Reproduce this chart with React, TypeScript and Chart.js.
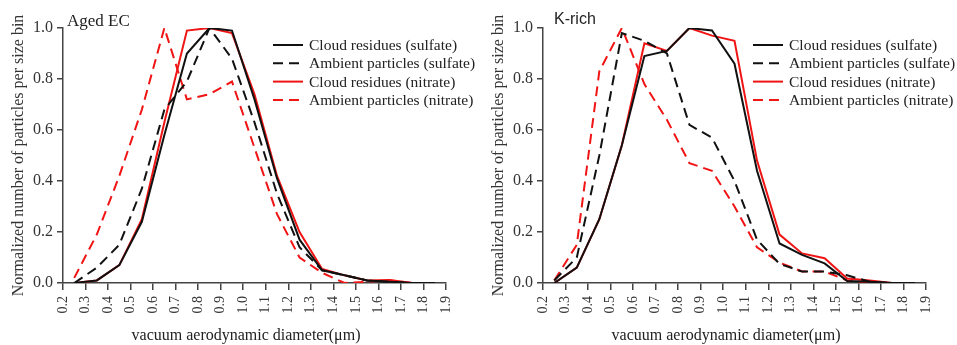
import React, { useEffect, useRef } from "react";
import { Chart, registerables } from "chart.js";

Chart.register(...registerables);

// ---- data ----
const binCenters = [0.25, 0.35, 0.45, 0.55, 0.65, 0.75, 0.85, 0.95, 1.05, 1.15, 1.25, 1.35, 1.45, 1.55, 1.65, 1.75, 1.85];
const xTicks = [0.2, 0.3, 0.4, 0.5, 0.6, 0.7, 0.8, 0.9, 1.0, 1.1, 1.2, 1.3, 1.4, 1.5, 1.6, 1.7, 1.8, 1.9];
const yTicks = [0, 0.2, 0.4, 0.6, 0.8, 1.0];
const seriesLabels = [
  "Cloud residues (sulfate)",
  "Ambient particles (sulfate)",
  "Cloud residues (nitrate)",
  "Ambient particles (nitrate)",
];
const panelTitles = ["Aged EC", "K-rich"];
const yAxisTitle = "Normalized number of particles per size bin";
const xAxisTitle = "vacuum aerodynamic diameter(\u03bcm)";

// Aged EC
const agedCloudSulfate = [0, 0.01, 0.07, 0.24, 0.58, 0.9, 1.0, 0.99, 0.72, 0.41, 0.17, 0.05, 0.03, 0.01, 0.005, 0, 0];
const agedAmbientSulfate = [0.0, 0.06, 0.15, 0.37, 0.68, 0.79, 1.0, 0.88, 0.63, 0.35, 0.14, 0.05, 0.03, 0.01, 0.005, 0, 0];
const agedCloudNitrate = [0, 0.01, 0.07, 0.25, 0.63, 0.99, 1.0, 0.98, 0.74, 0.42, 0.2, 0.055, 0.03, 0.01, 0.012, 0, 0];
const agedAmbientNitrate = [0.02, 0.19, 0.42, 0.68, 1.0, 0.72, 0.74, 0.79, 0.53, 0.27, 0.1, 0.04, 0.0, 0.005, 0.01, 0, 0];

// K-rich
const krCloudSulfate = [0, 0.06, 0.25, 0.54, 0.89, 0.91, 1.0, 0.99, 0.86, 0.44, 0.155, 0.11, 0.077, 0.008, 0.005, 0, 0];
const krAmbientSulfate = [0.01, 0.1, 0.5, 0.98, 0.95, 0.9, 0.62, 0.57, 0.4, 0.17, 0.075, 0.045, 0.045, 0.03, 0.005, 0, 0];
const krCloudNitrate = [0, 0.06, 0.25, 0.54, 0.94, 0.91, 1.0, 0.97, 0.95, 0.48, 0.19, 0.116, 0.097, 0.018, 0.01, 0, 0];
const krAmbientNitrate = [0.01, 0.15, 0.83, 1.0, 0.78, 0.64, 0.47, 0.44, 0.3, 0.14, 0.08, 0.045, 0.045, 0.01, 0, 0, 0];

const BLACK = "#111111";
const RED = "#f01414";
const SERIF = "'Liberation Serif', 'Times New Roman', serif";
const SANS = "'Liberation Sans', Arial, sans-serif";

const decorPlugin = {
  id: "panelDecor",
  afterDraw(chart: any, _args: any, opts: any) {
    const ctx = chart.ctx;
    ctx.save();
    // panel title
    ctx.fillStyle = "#222";
    ctx.font = opts.titleFont;
    ctx.textAlign = "left";
    ctx.textBaseline = "alphabetic";
    ctx.fillText(opts.title, opts.titleX, opts.titleY);
    // x-axis title
    ctx.font = `16px ${SERIF}`;
    ctx.textAlign = "center";
    ctx.fillText(opts.xTitle, opts.xTitleX, opts.xTitleY);
    // legend
    ctx.font = `15.5px ${SERIF}`;
    ctx.textAlign = "left";
    ctx.textBaseline = "middle";
    chart.data.datasets.forEach((ds: any, i: number) => {
      const y = opts.legendY + i * opts.legendGap;
      ctx.strokeStyle = ds.borderColor;
      ctx.lineWidth = ds.borderWidth;
      ctx.setLineDash(ds.borderDash || []);
      ctx.beginPath();
      ctx.moveTo(opts.legendX, y);
      ctx.lineTo(opts.legendX + 30, y);
      ctx.stroke();
      ctx.setLineDash([]);
      ctx.fillStyle = "#222";
      ctx.fillText(ds.label, opts.legendX + 36, y + 1);
    });
    ctx.restore();
  },
};

function makeDatasets(series: number[][]) {
  const styles = [
    { color: BLACK, dash: [] as number[] },
    { color: BLACK, dash: [10, 6] },
    { color: RED, dash: [] as number[] },
    { color: RED, dash: [10, 6] },
  ];
  return series.map((vals, i) => ({
    label: seriesLabels[i],
    data: binCenters.map((x, j) => ({ x, y: vals[j] })),
    borderColor: styles[i].color,
    backgroundColor: styles[i].color,
    borderDash: styles[i].dash,
    borderWidth: 2,
    pointRadius: 0,
    tension: 0,
    fill: false,
  }));
}

function Panel(props: { width: number; series: number[][]; title: string; titleFont: string; titleX: number; titleY: number }) {
  const ref = useRef<HTMLCanvasElement>(null);
  useEffect(() => {
    if (!ref.current) return;
    const axisColor = "#444";
    const chart = new Chart(ref.current, {
      type: "line",
      data: { datasets: makeDatasets(props.series) as any },
      plugins: [decorPlugin as any],
      options: {
        animation: false,
        responsive: false,
        maintainAspectRatio: false,
        layout: { padding: { left: 0, top: 28, right: props.width - 446, bottom: 0 } },
        plugins: {
          legend: { display: false },
          tooltip: { enabled: false },
          panelDecor: {
            title: props.title,
            titleFont: props.titleFont,
            titleX: props.titleX,
            titleY: props.titleY,
            xTitle: xAxisTitle,
            xTitleX: 246,
            xTitleY: 340,
            legendX: 273,
            legendY: 45,
            legendGap: 18.3,
          },
        } as any,
        scales: {
          x: {
            type: "linear",
            min: 0.2,
            max: 1.9,
            afterBuildTicks: (s: any) => {
              s.ticks = xTicks.map((v) => ({ value: v }));
            },
            afterFit: (s: any) => {
              s.height = 62;
            },
            grid: { display: true, drawOnChartArea: false, drawTicks: true, tickLength: 7, color: axisColor, lineWidth: 1.5 },
            border: { display: true, color: axisColor, width: 1.5 },
            ticks: {
              autoSkip: false,
              minRotation: 90,
              maxRotation: 90,
              padding: 6,
              color: "#333",
              font: { family: SERIF, size: 14 },
              callback: (v: any) => Number(v).toFixed(1),
            },
          },
          y: {
            type: "linear",
            min: 0,
            max: 1.0,
            afterBuildTicks: (s: any) => {
              s.ticks = yTicks.map((v) => ({ value: v }));
            },
            afterFit: (s: any) => {
              s.width = 63;
            },
            grid: { display: true, drawOnChartArea: false, drawTicks: true, tickLength: 6, color: axisColor, lineWidth: 1.5 },
            border: { display: true, color: axisColor, width: 1.5 },
            title: {
              display: true,
              text: yAxisTitle,
              color: "#333",
              font: { family: SERIF, size: 16 },
              padding: { top: 9, bottom: 0 },
            },
            ticks: {
              padding: 4,
              color: "#333",
              font: { family: SERIF, size: 16 },
              callback: (v: any) => Number(v).toFixed(1),
            },
          },
        },
      },
    } as any);
    return () => chart.destroy();
  }, []);
  return <canvas ref={ref} width={props.width} height={345} style={{ display: "block", width: props.width, height: 345 }} />;
}

export default function App() {
  return (
    <div style={{ position: "absolute", left: 0, top: 0, width: 957, height: 345, background: "#fff", display: "flex" }}>
      <Panel
        width={480}
        series={[agedCloudSulfate, agedAmbientSulfate, agedCloudNitrate, agedAmbientNitrate]}
        title={panelTitles[0]}
        titleFont={`17px ${SERIF}`}
        titleX={67}
        titleY={26}
      />
      <Panel
        width={477}
        series={[krCloudSulfate, krAmbientSulfate, krCloudNitrate, krAmbientNitrate]}
        title={panelTitles[1]}
        titleFont={`16px ${SANS}`}
        titleX={74}
        titleY={24}
      />
    </div>
  );
}
